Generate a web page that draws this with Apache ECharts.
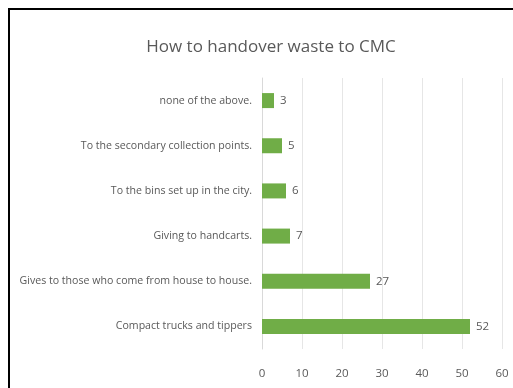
<!DOCTYPE html>
<html>
<head>
<meta charset="utf-8">
<script src="https://cdn.jsdelivr.net/npm/echarts@6/dist/echarts.min.js"></script>
<style>
  html, body { margin: 0; padding: 0; background: #fff; }
  #frame { position: absolute; left: 8px; top: 8px; width: 505px; height: 380px;
           border-left: 2px solid #000; border-top: 2px solid #000; box-sizing: border-box; }
  #chart { width: 513px; height: 388px; }
</style>
</head>
<body>
<div id="chart"></div>
<div id="frame"></div>
<script>
const titleText = 'How to handover waste to CMC'
// bottom to top, as Excel draws them
const categories = [
  'Compact trucks and tippers',
  'Gives to those who come from house to house.',
  'Giving to handcarts.',
  'To the bins set up in the city.',
  'To the secondary collection points.',
  'none of the above.'
]
const values = [52, 27, 7, 6, 5, 3]
const axisMax = 60
const axisStep = 10

const font = '"Open Sans", sans-serif'
const grey = '#595959'

const chart = echarts.init(document.getElementById('chart'), null, { renderer: 'canvas' })
chart.setOption({
  animation: false,
  title: {
    text: titleText,
    left: 266,
    textAlign: 'center',
    top: 34,
    textStyle: { fontFamily: font, fontSize: 17, fontWeight: 'normal', color: grey }
  },
  grid: { left: 262, right: 11, top: 78, bottom: 39, containLabel: false },
  xAxis: {
    type: 'value',
    min: 0,
    max: axisMax,
    interval: axisStep,
    axisLine: { show: false },
    axisTick: { show: false },
    axisLabel: { color: grey, fontFamily: font, fontSize: 11.5, margin: 19 },
    splitLine: { lineStyle: { color: '#e6e6e6', width: 1 } }
  },
  yAxis: {
    type: 'category',
    data: categories,
    axisLine: { lineStyle: { color: '#d9d9d9' } },
    axisTick: { show: false },
    axisLabel: { color: grey, fontFamily: font, fontSize: 10.6, margin: 10 }
  },
  series: [{
    type: 'bar',
    data: values,
    barWidth: 15,
    itemStyle: { color: '#70ad47' },
    label: {
      show: true,
      position: 'right',
      distance: 6,
      color: grey,
      fontFamily: font,
      fontSize: 11.5
    }
  }]
})
</script>
</body>
</html>
